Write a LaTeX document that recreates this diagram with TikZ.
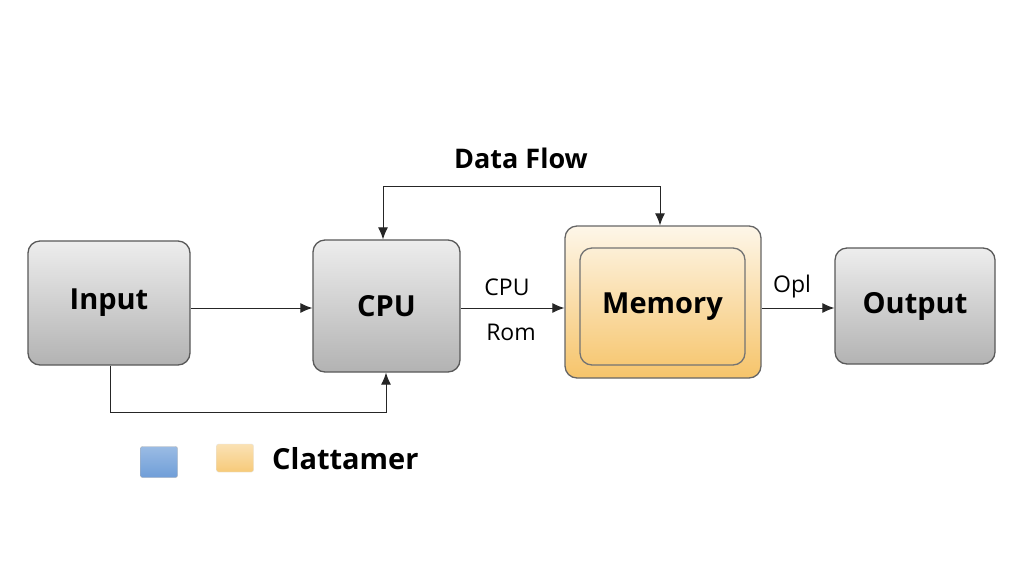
\documentclass[tikz,border=0pt]{standalone}
\usepackage{fontspec}
\setmainfont{Open Sans}
\usetikzlibrary{arrows.meta}
\definecolor{org}{HTML}{F6C46A}
\definecolor{blu}{HTML}{6F9ED8}
\begin{document}
\begin{tikzpicture}[x=1pt,y=-1pt,
  box/.style={draw=black!65,line width=1.3pt,rounded corners=12pt,top color=black!7,bottom color=black!30},
  lbl/.style={font=\fontsize{29}{34}\selectfont\bfseries},
  small/.style={font=\fontsize{23}{27}\selectfont\mdseries},
  arr/.style={-{Latex[length=12pt,width=10pt]},line width=1pt,black!85}]
\useasboundingbox (0,0) rectangle (1024,571);
\fill[white] (0,0) rectangle (1024,571);
\node[box,minimum width=162pt,minimum height=124pt,lbl] (in) at (109,303) {Input};
\node[box,minimum width=147pt,minimum height=132pt,lbl] (cpu) at (386.5,306) {CPU};
\node[draw=black!60,line width=1.3pt,rounded corners=12pt,top color=org!15,bottom color=org,minimum width=196pt,minimum height=152pt] (mem) at (663,302) {};
\node[draw=black!55,line width=1.3pt,rounded corners=12pt,minimum width=165pt,minimum height=117pt,lbl] (memi) at (662.5,306.5) {Memory};
\node[box,minimum width=160pt,minimum height=116pt,lbl] (out) at (915,306) {Output};
\draw[arr] (in.east |- 0,308) -- (cpu.west |- 0,308);
\draw[arr] (cpu.east |- 0,308) -- (mem.west |- 0,308);
\draw[arr] (mem.east |- 0,308) -- (out.west |- 0,308);
\node[small] (l1) at (507,287) {CPU};
\node[small] (l2) at (511,332) {Rom};
\node[small] (l3) at (792,287) {Opl};
\coordinate (t1) at (383,186);
\coordinate (t2) at (660,186);
\draw[arr,{Latex[length=12pt,width=10pt]}-{Latex[length=12pt,width=10pt]}] (cpu.north -| t1) -- (t1) -- (t2) -- (mem.north -| t2);
\node[font=\fontsize{27}{30}\selectfont\bfseries] (df) at (521,158) {Data Flow};
\coordinate (b1) at (110,412);
\coordinate (b2) at (386,412);
\draw[arr] (in.south -| b1) -- (b1) -- (b2) -- (cpu.south -| b2);
\node[draw=black!30,top color=blu!70,bottom color=blu,rounded corners=2pt,minimum width=37pt,minimum height=31pt] (lg1) at (159,462) {};
\node[draw=black!10,top color=org!50,bottom color=org!90,rounded corners=2pt,minimum width=37pt,minimum height=28pt] (lg2) at (235,458) {};
\node[font=\fontsize{29}{34}\selectfont\bfseries,anchor=west,inner sep=0pt] (lt) at (272,459) {Clattamer};
\end{tikzpicture}
\end{document}
